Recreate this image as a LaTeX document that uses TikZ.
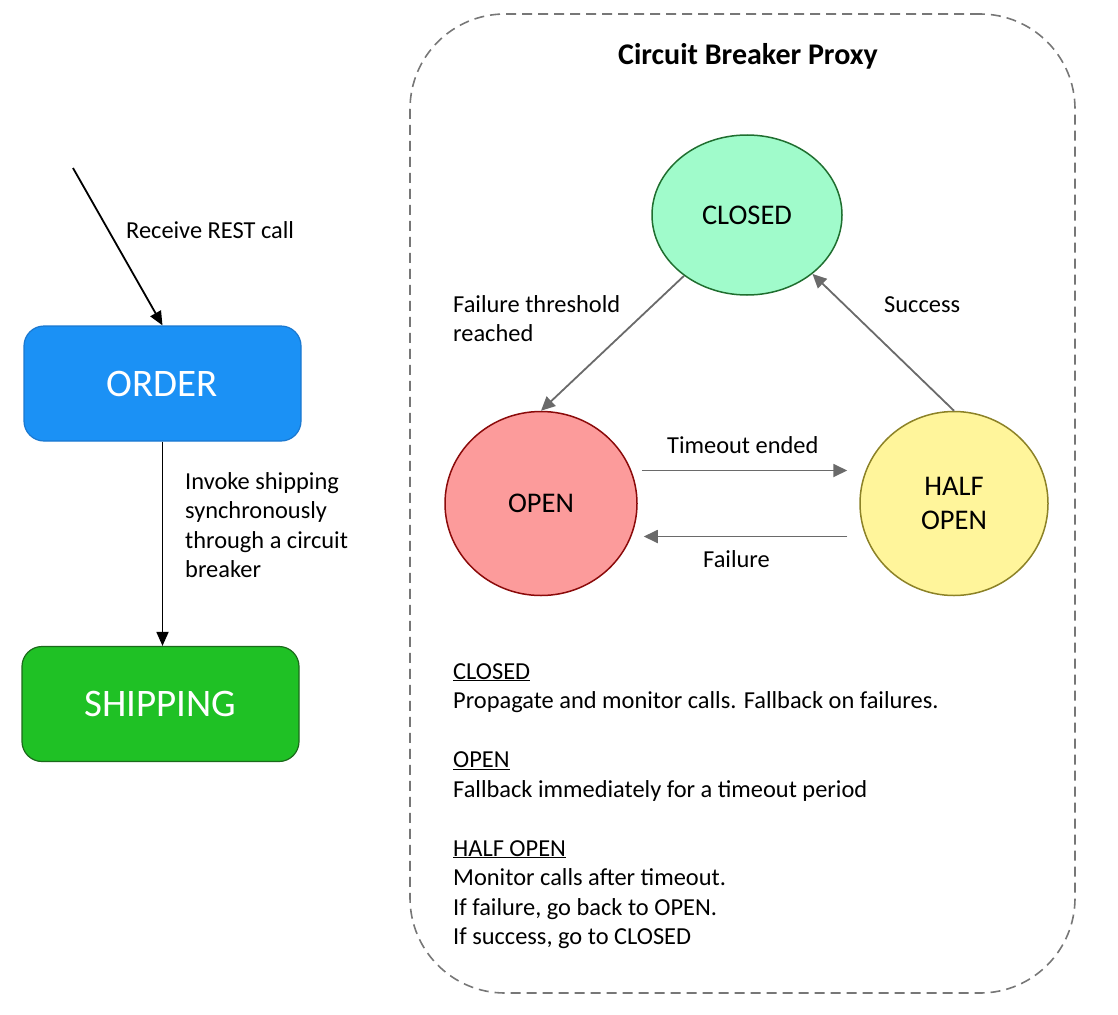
\documentclass[tikz,border=0pt]{standalone}
\usepackage{fontspec}
\setmainfont{Carlito}
\usetikzlibrary{arrows.meta,shapes.geometric}
\definecolor{orderfill}{HTML}{1B91F5}
\definecolor{orderline}{HTML}{1A78D0}
\definecolor{shipfill}{HTML}{1FC125}
\definecolor{shipline}{HTML}{1B6A1B}
\definecolor{closedfill}{HTML}{A0FBCB}
\definecolor{closedline}{HTML}{1F6E2F}
\definecolor{openfill}{HTML}{FC9B9B}
\definecolor{openline}{HTML}{8B0A0A}
\definecolor{halffill}{HTML}{FFF59B}
\definecolor{halfline}{HTML}{8C8227}
\definecolor{arrgray}{HTML}{6A6A6A}
\definecolor{dashgray}{HTML}{777777}
\tikzset{
  svcbox/.style={rounded corners=20pt, minimum width=277pt, minimum height=115pt, line width=1.2pt, text=white, font=\fontsize{39}{47}\selectfont},
  state/.style={ellipse, line width=1.5pt, inner sep=0pt, align=center, font=\fontsize{28.5}{34}\selectfont},
  blkarr/.style={line width=1.8pt, -{Triangle[length=14pt,width=12pt]}},
  grayarr/.style={line width=1.8pt, draw=arrgray, -{Triangle[length=14pt,width=13pt]}, color=arrgray},
  lbl/.style={inner sep=0pt, align=left, font=\fontsize{24.4}{29.5}\selectfont},
}
\begin{document}
\begin{tikzpicture}[x=1pt,y=-1pt]
\useasboundingbox (0,0) rectangle (1118,1014);
% left part
\node[svcbox, fill=orderfill, draw=orderline] (order) at (162.5,383.5) {ORDER};
\node[svcbox, fill=shipfill, draw=shipline] (ship) at (160.5,704) {SHIPPING};
\coordinate (src) at (73,168);
\draw[blkarr] (src) -- (order.north);
\draw[blkarr] (order.south) -- (order.south |- ship.north);
\node[lbl, anchor=base west] (lrecv) at (126,238) {Receive REST call};
\node[lbl, anchor=north west] (linv) at (185,472) {Invoke shipping\\synchronously\\through a circuit\\breaker};
% proxy
\node[draw=dashgray, line width=1.6pt, dash pattern=on 10pt off 6pt, rounded corners=95pt, minimum width=665pt, minimum height=979pt] (proxy) at (742.5,503.5) {};
\node[anchor=base, inner sep=0pt, font=\fontsize{30}{36}\selectfont\bfseries] (title) at (748,65) {Circuit Breaker Proxy};
\node[state, fill=closedfill, draw=closedline, minimum width=190pt, minimum height=160pt] (closed) at (747,215) {CLOSED};
\node[state, fill=openfill, draw=openline, minimum width=192pt, minimum height=184pt] (open) at (541,503.5) {OPEN};
\node[state, fill=halffill, draw=halfline, minimum width=188pt, minimum height=184pt] (half) at (954,503.5) {HALF\\OPEN};
\draw[grayarr] (closed.224) -- (open.north);
\draw[grayarr] (half.north) -- (closed.318);
\draw[grayarr, shorten <=4pt, shorten >=12pt] ([yshift=33pt]open.east) -- ([yshift=33pt]half.west);
\draw[grayarr, shorten <=12pt, shorten >=6pt] ([yshift=-33pt]half.west) -- ([yshift=-33pt]open.east);
\node[lbl, anchor=north west] (lfail) at (453,295) {Failure threshold\\reached};
\node[lbl, anchor=base west] (lsucc) at (884,312) {Success};
\node[lbl, anchor=base west] (ltime) at (667,453) {Timeout ended};
\node[lbl, anchor=base west] (lfl) at (703,567) {Failure};
\node[lbl, anchor=north west] (legend) at (453,663) {\underline{CLOSED}\\Propagate and monitor calls. Fallback on failures.\\[29.5pt]\underline{OPEN}\\Fallback immediately for a timeout period\\[29.5pt]\underline{HALF OPEN}\\Monitor calls after timeout.\\If failure, go back to OPEN.\\If success, go to CLOSED};
\end{tikzpicture}
\end{document}
